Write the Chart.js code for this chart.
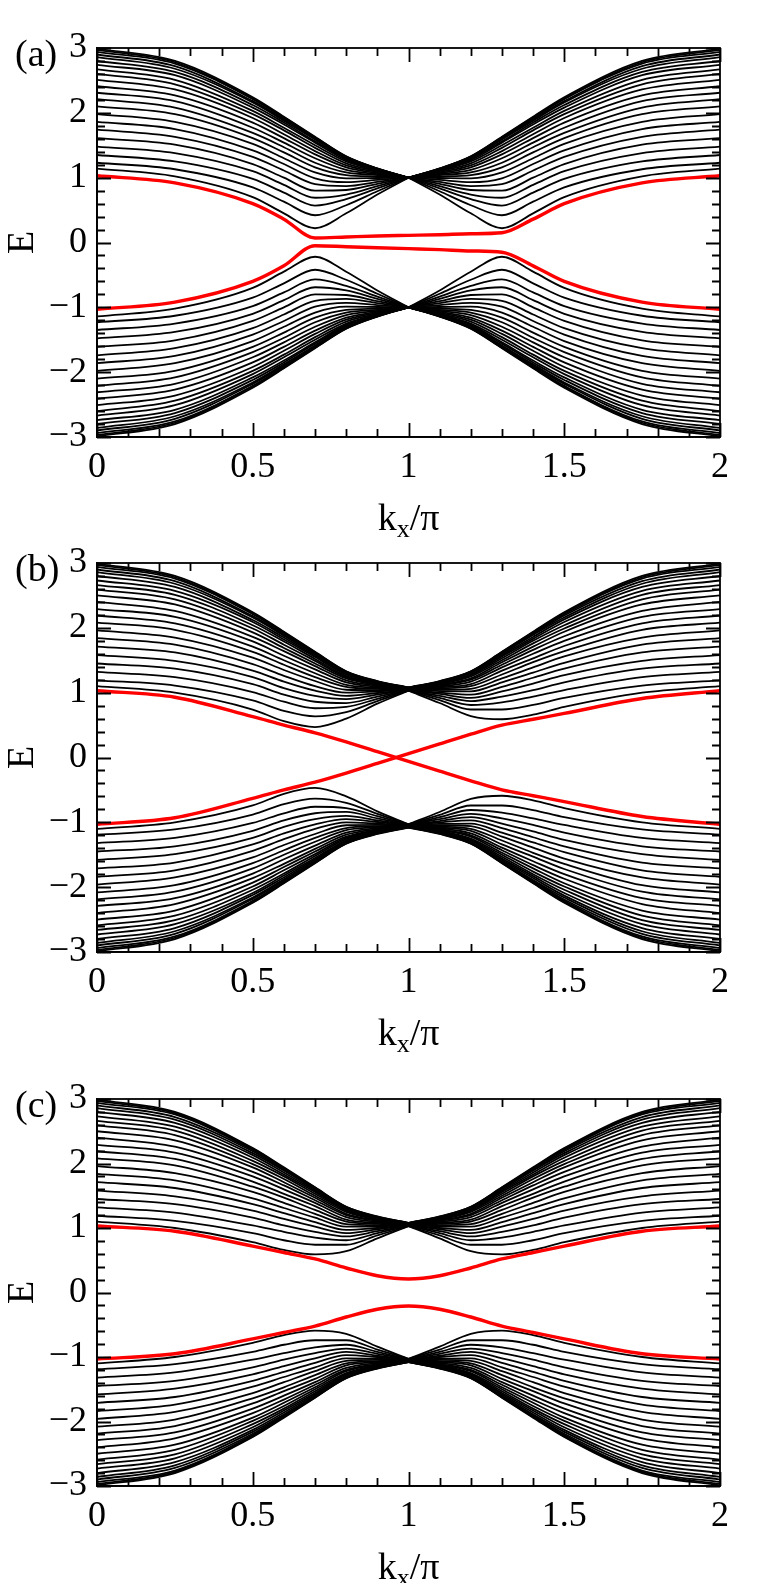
<!DOCTYPE html>
<html><head><meta charset="utf-8">
<script src="https://cdn.jsdelivr.net/npm/chart.js@4.4.1/dist/chart.umd.min.js"></script>
<style>
html,body{margin:0;padding:0;background:#fff;}
body{width:768px;height:1583px;position:relative;overflow:hidden;font-family:"Liberation Serif","Times New Roman",serif;color:#000;}
canvas{position:absolute;left:0;}
.lbl{position:absolute;font-size:38px;line-height:38px;white-space:nowrap;}
.xt{position:absolute;left:308px;width:201px;text-align:center;font-size:38px;line-height:38px;}
.xt sub{font-size:26px;vertical-align:-7px;line-height:0;}
</style></head>
<body>
<canvas id="ca" width="768" height="520" style="top:0px"></canvas>
<canvas id="cb" width="768" height="515" style="top:520px"></canvas>
<canvas id="cc" width="768" height="534" style="top:1035px"></canvas>
<div class="lbl" style="left:15px;top:34px">(a)</div>
<div class="lbl" style="left:15px;top:549px">(b)</div>
<div class="lbl" style="left:15px;top:1085px">(c)</div>
<div class="xt" style="top:498px">k<sub>x</sub>/π</div>
<div class="xt" style="top:1013px">k<sub>x</sub>/π</div>
<div class="xt" style="top:1547px">k<sub>x</sub>/π</div>
<script>
// k_x/pi sample positions
const K = [0,0.25,0.5,0.6,0.7,0.8,0.9,1,1.1,1.2,1.3,1.4,1.5,1.75,2];
const xTickValues = [0,0.5,1,1.5,2];
const yTickValues = [-3,-2,-1,0,1,2,3];
const yTitle = 'E';

// ---------- panel (a) ----------
const aUpper = [
[1.14,1.02,0.70,0.45,0.22,0.45,0.74,1,0.74,0.45,0.22,0.45,0.70,1.02,1.14],
[1.23,1.13,0.85,0.63,0.42,0.575,0.79,1,0.79,0.575,0.42,0.63,0.85,1.13,1.23],
[1.35,1.25,0.98,0.77,0.57,0.67,0.835,1,0.835,0.67,0.57,0.77,0.98,1.25,1.35],
[1.48,1.38,1.10,0.89,0.69,0.74,0.87,1,0.87,0.74,0.69,0.89,1.10,1.38,1.48],
[1.61,1.51,1.21,1.00,0.80,0.81,0.905,1,0.905,0.81,0.80,1.00,1.21,1.51,1.61],
[1.74,1.63,1.32,1.11,0.90,0.87,0.935,1,0.935,0.87,0.90,1.11,1.32,1.63,1.74],
[1.86,1.75,1.42,1.21,0.99,0.93,0.965,1,0.965,0.93,0.99,1.21,1.42,1.75,1.86],
[1.98,1.86,1.52,1.30,1.08,0.99,0.995,1,0.995,0.99,1.08,1.30,1.52,1.86,1.98],
[2.10,1.98,1.61,1.39,1.16,1.04,1.02,1,1.02,1.04,1.16,1.39,1.61,1.98,2.10],
[2.21,2.08,1.69,1.47,1.23,1.08,1.04,1,1.04,1.08,1.23,1.47,1.69,2.08,2.21],
[2.31,2.18,1.77,1.54,1.30,1.12,1.055,1,1.055,1.12,1.30,1.54,1.77,2.18,2.31],
[2.41,2.27,1.85,1.61,1.36,1.16,1.07,1,1.07,1.16,1.36,1.61,1.85,2.27,2.41],
[2.51,2.36,1.92,1.67,1.41,1.19,1.085,1,1.085,1.19,1.41,1.67,1.92,2.36,2.51],
[2.60,2.44,1.98,1.73,1.46,1.22,1.10,1,1.10,1.22,1.46,1.73,1.98,2.44,2.60],
[2.67,2.51,2.03,1.77,1.50,1.25,1.11,1,1.11,1.25,1.50,1.77,2.03,2.51,2.67],
[2.74,2.58,2.08,1.82,1.54,1.27,1.12,1,1.12,1.27,1.54,1.82,2.08,2.58,2.74],
[2.80,2.63,2.12,1.85,1.56,1.29,1.125,1,1.125,1.29,1.56,1.85,2.12,2.63,2.80],
[2.86,2.68,2.16,1.88,1.59,1.30,1.13,1,1.13,1.30,1.59,1.88,2.16,2.68,2.86],
[2.90,2.72,2.18,1.90,1.60,1.31,1.135,1,1.135,1.31,1.60,1.90,2.18,2.72,2.90],
[2.94,2.76,2.21,1.92,1.615,1.32,1.138,1,1.138,1.32,1.615,1.92,2.21,2.76,2.94],
[2.97,2.78,2.22,1.93,1.625,1.326,1.14,1,1.14,1.326,1.625,1.93,2.22,2.78,2.97],
[2.99,2.80,2.24,1.94,1.63,1.33,1.142,1,1.142,1.33,1.63,1.94,2.24,2.80,2.99]
];
const aLower = [
[-1.14,-1.02,-0.70,-0.45,-0.22,-0.45,-0.74,-1,-0.74,-0.45,-0.22,-0.45,-0.70,-1.02,-1.14],
[-1.23,-1.13,-0.85,-0.63,-0.42,-0.575,-0.79,-1,-0.79,-0.575,-0.42,-0.63,-0.85,-1.13,-1.23],
[-1.35,-1.25,-0.98,-0.77,-0.57,-0.67,-0.835,-1,-0.835,-0.67,-0.57,-0.77,-0.98,-1.25,-1.35],
[-1.48,-1.38,-1.10,-0.89,-0.69,-0.74,-0.87,-1,-0.87,-0.74,-0.69,-0.89,-1.10,-1.38,-1.48],
[-1.61,-1.51,-1.21,-1.00,-0.80,-0.81,-0.905,-1,-0.905,-0.81,-0.80,-1.00,-1.21,-1.51,-1.61],
[-1.74,-1.63,-1.32,-1.11,-0.90,-0.87,-0.935,-1,-0.935,-0.87,-0.90,-1.11,-1.32,-1.63,-1.74],
[-1.86,-1.75,-1.42,-1.21,-0.99,-0.93,-0.965,-1,-0.965,-0.93,-0.99,-1.21,-1.42,-1.75,-1.86],
[-1.98,-1.86,-1.52,-1.30,-1.08,-0.99,-0.995,-1,-0.995,-0.99,-1.08,-1.30,-1.52,-1.86,-1.98],
[-2.10,-1.98,-1.61,-1.39,-1.16,-1.04,-1.02,-1,-1.02,-1.04,-1.16,-1.39,-1.61,-1.98,-2.10],
[-2.21,-2.08,-1.69,-1.47,-1.23,-1.08,-1.04,-1,-1.04,-1.08,-1.23,-1.47,-1.69,-2.08,-2.21],
[-2.31,-2.18,-1.77,-1.54,-1.30,-1.12,-1.055,-1,-1.055,-1.12,-1.30,-1.54,-1.77,-2.18,-2.31],
[-2.41,-2.27,-1.85,-1.61,-1.36,-1.16,-1.07,-1,-1.07,-1.16,-1.36,-1.61,-1.85,-2.27,-2.41],
[-2.51,-2.36,-1.92,-1.67,-1.41,-1.19,-1.085,-1,-1.085,-1.19,-1.41,-1.67,-1.92,-2.36,-2.51],
[-2.60,-2.44,-1.98,-1.73,-1.46,-1.22,-1.10,-1,-1.10,-1.22,-1.46,-1.73,-1.98,-2.44,-2.60],
[-2.67,-2.51,-2.03,-1.77,-1.50,-1.25,-1.11,-1,-1.11,-1.25,-1.50,-1.77,-2.03,-2.51,-2.67],
[-2.74,-2.58,-2.08,-1.82,-1.54,-1.27,-1.12,-1,-1.12,-1.27,-1.54,-1.82,-2.08,-2.58,-2.74],
[-2.80,-2.63,-2.12,-1.85,-1.56,-1.29,-1.125,-1,-1.125,-1.29,-1.56,-1.85,-2.12,-2.63,-2.80],
[-2.86,-2.68,-2.16,-1.88,-1.59,-1.30,-1.13,-1,-1.13,-1.30,-1.59,-1.88,-2.16,-2.68,-2.86],
[-2.90,-2.72,-2.18,-1.90,-1.60,-1.31,-1.135,-1,-1.135,-1.31,-1.60,-1.90,-2.18,-2.72,-2.90],
[-2.94,-2.76,-2.21,-1.92,-1.615,-1.32,-1.138,-1,-1.138,-1.32,-1.615,-1.92,-2.21,-2.76,-2.94],
[-2.97,-2.78,-2.22,-1.93,-1.625,-1.326,-1.14,-1,-1.14,-1.326,-1.625,-1.93,-2.22,-2.78,-2.97],
[-2.99,-2.80,-2.24,-1.94,-1.63,-1.33,-1.142,-1,-1.142,-1.33,-1.63,-1.94,-2.24,-2.80,-2.99]
];
const aRedUpper = [1.03,0.92,0.60,0.36,0.07,0.085,0.10,0.11,0.12,0.135,0.15,0.36,0.60,0.92,1.03];
const aRedLower = [-1.03,-0.92,-0.60,-0.36,-0.05,-0.065,-0.08,-0.095,-0.11,-0.13,-0.15,-0.36,-0.60,-0.92,-1.03];

// ---------- panel (b) ----------
const bUpper = [
[1.10,1.00,0.74,0.56,0.47,0.60,0.83,1.03,0.84,0.64,0.59,0.66,0.78,1.00,1.10],
[1.19,1.11,0.88,0.72,0.635,0.70,0.87,1.03,0.885,0.74,0.74,0.81,0.92,1.11,1.19],
[1.32,1.24,1.01,0.86,0.76,0.78,0.905,1.035,0.92,0.81,0.85,0.94,1.04,1.24,1.32],
[1.45,1.37,1.13,0.97,0.86,0.84,0.94,1.035,0.95,0.87,0.94,1.04,1.16,1.37,1.45],
[1.58,1.49,1.24,1.07,0.95,0.90,0.97,1.04,0.98,0.92,1.02,1.14,1.27,1.49,1.58],
[1.71,1.62,1.34,1.17,1.03,0.95,0.995,1.04,1.0,0.97,1.09,1.23,1.37,1.62,1.71],
[1.84,1.74,1.44,1.26,1.10,1.00,1.02,1.045,1.025,1.02,1.16,1.31,1.46,1.74,1.84],
[1.96,1.85,1.54,1.35,1.18,1.045,1.04,1.045,1.045,1.06,1.22,1.39,1.56,1.85,1.96],
[2.08,1.97,1.63,1.43,1.24,1.09,1.06,1.05,1.065,1.10,1.28,1.47,1.64,1.97,2.08],
[2.19,2.07,1.71,1.50,1.30,1.12,1.075,1.05,1.08,1.13,1.34,1.53,1.72,2.07,2.19],
[2.29,2.17,1.79,1.57,1.36,1.16,1.09,1.055,1.095,1.17,1.39,1.60,1.80,2.17,2.29],
[2.40,2.26,1.86,1.64,1.41,1.19,1.105,1.055,1.11,1.20,1.43,1.66,1.87,2.26,2.40],
[2.50,2.36,1.93,1.69,1.45,1.22,1.12,1.06,1.12,1.22,1.47,1.71,1.94,2.36,2.50],
[2.59,2.44,1.99,1.74,1.49,1.24,1.13,1.06,1.13,1.25,1.50,1.76,1.99,2.44,2.59],
[2.66,2.51,2.04,1.79,1.52,1.26,1.14,1.065,1.14,1.27,1.53,1.80,2.04,2.51,2.66],
[2.73,2.57,2.09,1.82,1.55,1.28,1.15,1.065,1.15,1.28,1.56,1.83,2.09,2.57,2.73],
[2.80,2.63,2.12,1.85,1.57,1.29,1.155,1.07,1.155,1.30,1.58,1.86,2.13,2.63,2.80],
[2.86,2.68,2.16,1.88,1.59,1.31,1.16,1.07,1.16,1.31,1.60,1.89,2.16,2.68,2.86],
[2.90,2.72,2.18,1.90,1.61,1.315,1.165,1.075,1.165,1.316,1.61,1.90,2.19,2.72,2.90],
[2.94,2.76,2.21,1.92,1.62,1.322,1.17,1.075,1.17,1.322,1.62,1.92,2.21,2.76,2.94],
[2.97,2.78,2.23,1.93,1.625,1.327,1.175,1.08,1.175,1.327,1.626,1.93,2.23,2.78,2.97],
[2.99,2.80,2.24,1.94,1.63,1.33,1.18,1.08,1.18,1.33,1.63,1.94,2.24,2.80,2.99]
];
const bLower = [
[-1.10,-1.00,-0.74,-0.56,-0.47,-0.60,-0.83,-1.03,-0.84,-0.64,-0.59,-0.66,-0.78,-1.00,-1.10],
[-1.19,-1.11,-0.88,-0.72,-0.635,-0.70,-0.87,-1.03,-0.885,-0.74,-0.74,-0.81,-0.92,-1.11,-1.19],
[-1.32,-1.24,-1.01,-0.86,-0.76,-0.78,-0.905,-1.035,-0.92,-0.81,-0.85,-0.94,-1.04,-1.24,-1.32],
[-1.45,-1.37,-1.13,-0.97,-0.86,-0.84,-0.94,-1.035,-0.95,-0.87,-0.94,-1.04,-1.16,-1.37,-1.45],
[-1.58,-1.49,-1.24,-1.07,-0.95,-0.90,-0.97,-1.04,-0.98,-0.92,-1.02,-1.14,-1.27,-1.49,-1.58],
[-1.71,-1.62,-1.34,-1.17,-1.03,-0.95,-0.995,-1.04,-1.0,-0.97,-1.09,-1.23,-1.37,-1.62,-1.71],
[-1.84,-1.74,-1.44,-1.26,-1.10,-1.00,-1.02,-1.045,-1.025,-1.02,-1.16,-1.31,-1.46,-1.74,-1.84],
[-1.96,-1.85,-1.54,-1.35,-1.18,-1.045,-1.04,-1.045,-1.045,-1.06,-1.22,-1.39,-1.56,-1.85,-1.96],
[-2.08,-1.97,-1.63,-1.43,-1.24,-1.09,-1.06,-1.05,-1.065,-1.10,-1.28,-1.47,-1.64,-1.97,-2.08],
[-2.19,-2.07,-1.71,-1.50,-1.30,-1.12,-1.075,-1.05,-1.08,-1.13,-1.34,-1.53,-1.72,-2.07,-2.19],
[-2.29,-2.17,-1.79,-1.57,-1.36,-1.16,-1.09,-1.055,-1.095,-1.17,-1.39,-1.60,-1.80,-2.17,-2.29],
[-2.40,-2.26,-1.86,-1.64,-1.41,-1.19,-1.105,-1.055,-1.11,-1.20,-1.43,-1.66,-1.87,-2.26,-2.40],
[-2.50,-2.36,-1.93,-1.69,-1.45,-1.22,-1.12,-1.06,-1.12,-1.22,-1.47,-1.71,-1.94,-2.36,-2.50],
[-2.59,-2.44,-1.99,-1.74,-1.49,-1.24,-1.13,-1.06,-1.13,-1.25,-1.50,-1.76,-1.99,-2.44,-2.59],
[-2.66,-2.51,-2.04,-1.79,-1.52,-1.26,-1.14,-1.065,-1.14,-1.27,-1.53,-1.80,-2.04,-2.51,-2.66],
[-2.73,-2.57,-2.09,-1.82,-1.55,-1.28,-1.15,-1.065,-1.15,-1.28,-1.56,-1.83,-2.09,-2.57,-2.73],
[-2.80,-2.63,-2.12,-1.85,-1.57,-1.29,-1.155,-1.07,-1.155,-1.30,-1.58,-1.86,-2.13,-2.63,-2.80],
[-2.86,-2.68,-2.16,-1.88,-1.59,-1.31,-1.16,-1.07,-1.16,-1.31,-1.60,-1.89,-2.16,-2.68,-2.86],
[-2.90,-2.72,-2.18,-1.90,-1.61,-1.315,-1.165,-1.075,-1.165,-1.316,-1.61,-1.90,-2.19,-2.72,-2.90],
[-2.94,-2.76,-2.21,-1.92,-1.62,-1.322,-1.17,-1.075,-1.17,-1.322,-1.62,-1.92,-2.21,-2.76,-2.94],
[-2.97,-2.78,-2.23,-1.93,-1.625,-1.327,-1.175,-1.08,-1.175,-1.327,-1.626,-1.93,-2.23,-2.78,-2.97],
[-2.99,-2.80,-2.24,-1.94,-1.63,-1.33,-1.18,-1.08,-1.18,-1.33,-1.63,-1.94,-2.24,-2.80,-2.99]
];
const bRedA = [1.03,0.93,0.63,0.50,0.38,0.24,0.09,-0.06,-0.21,-0.36,-0.50,-0.59,-0.68,-0.91,-1.03];
const bRedB = [-1.03,-0.93,-0.63,-0.50,-0.38,-0.24,-0.09,0.06,0.21,0.36,0.50,0.59,0.68,0.91,1.03];

// ---------- panel (c) ----------
const cUpper = [
[1.10,1.00,0.78,0.66,0.59,0.64,0.84,1.03,0.84,0.64,0.59,0.66,0.78,1.00,1.10],
[1.19,1.11,0.92,0.81,0.74,0.74,0.885,1.03,0.885,0.74,0.74,0.81,0.92,1.11,1.19],
[1.32,1.24,1.04,0.94,0.85,0.81,0.92,1.035,0.92,0.81,0.85,0.94,1.04,1.24,1.32],
[1.45,1.37,1.16,1.04,0.94,0.87,0.95,1.035,0.95,0.87,0.94,1.04,1.16,1.37,1.45],
[1.58,1.49,1.27,1.14,1.02,0.92,0.98,1.04,0.98,0.92,1.02,1.14,1.27,1.49,1.58],
[1.71,1.62,1.37,1.23,1.09,0.97,1.0,1.04,1.0,0.97,1.09,1.23,1.37,1.62,1.71],
[1.84,1.74,1.46,1.31,1.16,1.02,1.025,1.045,1.025,1.02,1.16,1.31,1.46,1.74,1.84],
[1.96,1.85,1.56,1.39,1.22,1.06,1.045,1.045,1.045,1.06,1.22,1.39,1.56,1.85,1.96],
[2.08,1.97,1.64,1.47,1.28,1.10,1.065,1.05,1.065,1.10,1.28,1.47,1.64,1.97,2.08],
[2.19,2.07,1.72,1.53,1.34,1.13,1.08,1.05,1.08,1.13,1.34,1.53,1.72,2.07,2.19],
[2.29,2.17,1.80,1.60,1.39,1.17,1.095,1.055,1.095,1.17,1.39,1.60,1.80,2.17,2.29],
[2.40,2.26,1.87,1.66,1.43,1.20,1.11,1.055,1.11,1.20,1.43,1.66,1.87,2.26,2.40],
[2.50,2.36,1.94,1.71,1.47,1.22,1.12,1.06,1.12,1.22,1.47,1.71,1.94,2.36,2.50],
[2.59,2.44,1.99,1.76,1.50,1.25,1.13,1.06,1.13,1.25,1.50,1.76,1.99,2.44,2.59],
[2.66,2.51,2.04,1.80,1.53,1.27,1.14,1.065,1.14,1.27,1.53,1.80,2.04,2.51,2.66],
[2.73,2.57,2.09,1.83,1.56,1.28,1.15,1.065,1.15,1.28,1.56,1.83,2.09,2.57,2.73],
[2.80,2.63,2.13,1.86,1.58,1.30,1.155,1.07,1.155,1.30,1.58,1.86,2.13,2.63,2.80],
[2.86,2.68,2.16,1.89,1.60,1.31,1.16,1.07,1.16,1.31,1.60,1.89,2.16,2.68,2.86],
[2.90,2.72,2.19,1.90,1.61,1.316,1.165,1.075,1.165,1.316,1.61,1.90,2.19,2.72,2.90],
[2.94,2.76,2.21,1.92,1.62,1.322,1.17,1.075,1.17,1.322,1.62,1.92,2.21,2.76,2.94],
[2.97,2.78,2.23,1.93,1.626,1.327,1.175,1.08,1.175,1.327,1.626,1.93,2.23,2.78,2.97],
[2.99,2.80,2.24,1.94,1.63,1.33,1.18,1.08,1.18,1.33,1.63,1.94,2.24,2.80,2.99]
];
const cLower = [
[-1.10,-1.00,-0.78,-0.66,-0.59,-0.64,-0.84,-1.03,-0.84,-0.64,-0.59,-0.66,-0.78,-1.00,-1.10],
[-1.19,-1.11,-0.92,-0.81,-0.74,-0.74,-0.885,-1.03,-0.885,-0.74,-0.74,-0.81,-0.92,-1.11,-1.19],
[-1.32,-1.24,-1.04,-0.94,-0.85,-0.81,-0.92,-1.035,-0.92,-0.81,-0.85,-0.94,-1.04,-1.24,-1.32],
[-1.45,-1.37,-1.16,-1.04,-0.94,-0.87,-0.95,-1.035,-0.95,-0.87,-0.94,-1.04,-1.16,-1.37,-1.45],
[-1.58,-1.49,-1.27,-1.14,-1.02,-0.92,-0.98,-1.04,-0.98,-0.92,-1.02,-1.14,-1.27,-1.49,-1.58],
[-1.71,-1.62,-1.37,-1.23,-1.09,-0.97,-1.0,-1.04,-1.0,-0.97,-1.09,-1.23,-1.37,-1.62,-1.71],
[-1.84,-1.74,-1.46,-1.31,-1.16,-1.02,-1.025,-1.045,-1.025,-1.02,-1.16,-1.31,-1.46,-1.74,-1.84],
[-1.96,-1.85,-1.56,-1.39,-1.22,-1.06,-1.045,-1.045,-1.045,-1.06,-1.22,-1.39,-1.56,-1.85,-1.96],
[-2.08,-1.97,-1.64,-1.47,-1.28,-1.10,-1.065,-1.05,-1.065,-1.10,-1.28,-1.47,-1.64,-1.97,-2.08],
[-2.19,-2.07,-1.72,-1.53,-1.34,-1.13,-1.08,-1.05,-1.08,-1.13,-1.34,-1.53,-1.72,-2.07,-2.19],
[-2.29,-2.17,-1.80,-1.60,-1.39,-1.17,-1.095,-1.055,-1.095,-1.17,-1.39,-1.60,-1.80,-2.17,-2.29],
[-2.40,-2.26,-1.87,-1.66,-1.43,-1.20,-1.11,-1.055,-1.11,-1.20,-1.43,-1.66,-1.87,-2.26,-2.40],
[-2.50,-2.36,-1.94,-1.71,-1.47,-1.22,-1.12,-1.06,-1.12,-1.22,-1.47,-1.71,-1.94,-2.36,-2.50],
[-2.59,-2.44,-1.99,-1.76,-1.50,-1.25,-1.13,-1.06,-1.13,-1.25,-1.50,-1.76,-1.99,-2.44,-2.59],
[-2.66,-2.51,-2.04,-1.80,-1.53,-1.27,-1.14,-1.065,-1.14,-1.27,-1.53,-1.80,-2.04,-2.51,-2.66],
[-2.73,-2.57,-2.09,-1.83,-1.56,-1.28,-1.15,-1.065,-1.15,-1.28,-1.56,-1.83,-2.09,-2.57,-2.73],
[-2.80,-2.63,-2.13,-1.86,-1.58,-1.30,-1.155,-1.07,-1.155,-1.30,-1.58,-1.86,-2.13,-2.63,-2.80],
[-2.86,-2.68,-2.16,-1.89,-1.60,-1.31,-1.16,-1.07,-1.16,-1.31,-1.60,-1.89,-2.16,-2.68,-2.86],
[-2.90,-2.72,-2.19,-1.90,-1.61,-1.316,-1.165,-1.075,-1.165,-1.316,-1.61,-1.90,-2.19,-2.72,-2.90],
[-2.94,-2.76,-2.21,-1.92,-1.62,-1.322,-1.17,-1.075,-1.17,-1.322,-1.62,-1.92,-2.21,-2.76,-2.94],
[-2.97,-2.78,-2.23,-1.93,-1.626,-1.327,-1.175,-1.08,-1.175,-1.327,-1.626,-1.93,-2.23,-2.78,-2.97],
[-2.99,-2.80,-2.24,-1.94,-1.63,-1.33,-1.18,-1.08,-1.18,-1.33,-1.63,-1.94,-2.24,-2.80,-2.99]
];
const cRedUpper = [1.03,0.95,0.72,0.62,0.52,0.38,0.26,0.21,0.26,0.38,0.52,0.62,0.72,0.95,1.03];
const cRedLower = [-1.03,-0.95,-0.72,-0.62,-0.52,-0.38,-0.26,-0.21,-0.26,-0.38,-0.52,-0.62,-0.72,-0.95,-1.03];

// ---------- drawing ----------
Chart.defaults.font.family = "'Liberation Serif','Times New Roman',serif";
Chart.defaults.color = '#000';

const BLACK = {borderColor:'#000', borderWidth:1.8, order:2};
const RED = {borderColor:'#ff0000', borderWidth:3.4, order:1};

function pts(row, from, to) {
  const out = [];
  for (let i = from; i <= to; i++) out.push({x: K[i], y: row[i]});
  return out;
}

const frameTicks = {
  id: 'frameTicks',
  afterDraw(chart) {
    const {ctx, chartArea: {left, right, top, bottom}, scales: {x, y}} = chart;
    ctx.save();
    ctx.strokeStyle = '#000';
    ctx.lineWidth = 1.8;
    ctx.strokeRect(left, top, right - left, bottom - top);
    ctx.beginPath();
    for (let i = 0; i <= 20; i++) {
      const px = Math.round(x.getPixelForValue(i / 10)) + 0.5;
      const L = (i % 5 === 0) ? 14 : 8;
      ctx.moveTo(px, bottom); ctx.lineTo(px, bottom - L);
      ctx.moveTo(px, top); ctx.lineTo(px, top + L);
    }
    for (let i = 0; i <= 30; i++) {
      const py = Math.round(y.getPixelForValue(-3 + i * 0.2)) + 0.5;
      const L = (i % 5 === 0) ? 14 : 8;
      ctx.moveTo(left, py); ctx.lineTo(left + L, py);
      ctx.moveTo(right, py); ctx.lineTo(right - L, py);
    }
    ctx.stroke();
    ctx.restore();
  }
};

function makePanel(id, upper, lower, red1, red2, padTop) {
  const datasets = [];
  [upper, lower].forEach(rows => rows.forEach(r => {
    datasets.push(Object.assign({data: pts(r, 0, 7)}, BLACK));
    datasets.push(Object.assign({data: pts(r, 7, 14)}, BLACK));
  }));
  datasets.push(Object.assign({data: pts(red1, 0, 14)}, RED));
  datasets.push(Object.assign({data: pts(red2, 0, 14)}, RED));
  new Chart(document.getElementById(id), {
    type: 'line',
    data: {datasets},
    options: {
      responsive: false,
      animation: false,
      devicePixelRatio: 1,
      parsing: false,
      layout: {padding: {top: padTop, right: 48, left: 0, bottom: 0}},
      elements: {
        point: {radius: 0, hoverRadius: 0},
        line: {cubicInterpolationMode: 'monotone', fill: false, borderCapStyle: 'round', borderJoinStyle: 'round'}
      },
      plugins: {legend: {display: false}, tooltip: {enabled: false}, title: {display: false}},
      events: [],
      scales: {
        x: {
          type: 'linear', min: 0, max: 2,
          afterBuildTicks: s => { s.ticks = xTickValues.map(v => ({value: v})); },
          ticks: {font: {size: 36}, color: '#000', padding: 9, maxRotation: 0, autoSkip: false,
                  callback: v => String(v)},
          grid: {display: false, drawTicks: false},
          border: {display: true, color: '#000', width: 1.8},
          afterFit: s => { s.height = 83; }
        },
        y: {
          type: 'linear', min: -3, max: 3,
          afterBuildTicks: s => { s.ticks = yTickValues.map(v => ({value: v})); },
          ticks: {font: {size: 36}, color: '#000', padding: 10,
                  callback: v => (v < 0 ? '\u2212' + Math.abs(v) : String(v))},
          grid: {display: false, drawTicks: false},
          border: {display: true, color: '#000', width: 1.8},
          title: {display: true, text: yTitle, font: {size: 38}, color: '#000', padding: {top: 0, bottom: 0}},
          afterFit: s => { s.width = 97; }
        }
      }
    },
    plugins: [frameTicks]
  });
}

makePanel('ca', aUpper, aLower, aRedUpper, aRedLower, 48);
makePanel('cb', bUpper, bLower, bRedA, bRedB, 43);
makePanel('cc', cUpper, cLower, cRedUpper, cRedLower, 64);
</script>
</body></html>
